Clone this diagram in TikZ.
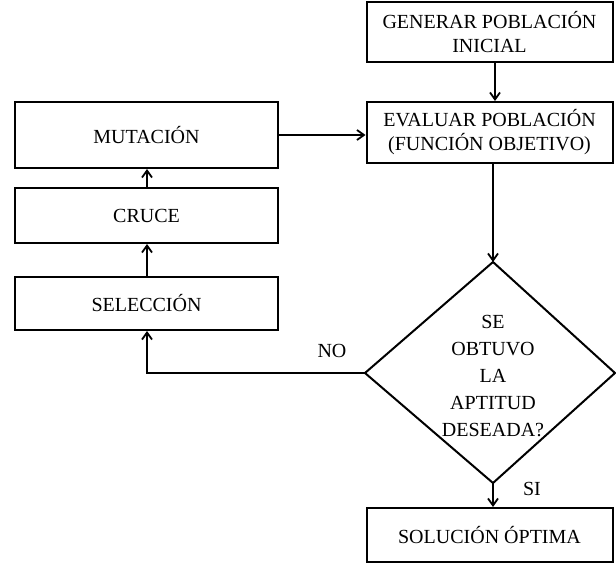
\documentclass[tikz,border=0pt]{standalone}
\usepackage{fontspec}
\setmainfont{Liberation Serif}
\usetikzlibrary{arrows.meta,shapes.geometric}
\begin{document}
\begin{tikzpicture}[x=1pt,y=-1pt,
  box/.style={draw,line width=2pt,inner sep=0pt,font=\fontsize{20}{24}\selectfont,align=center},
  link/.style={line width=1.8pt,-{Straight Barb[length=7pt,width=10pt,line width=1.8pt]}},
  lbl/.style={font=\fontsize{20}{24}\selectfont}]
\useasboundingbox (0,0) rectangle (616,567);
% right column
\node[box,minimum width=246pt,minimum height=60pt] (gen) at (489.5,32) {GENERAR POBLACIÓN\\INICIAL};
\node[box,minimum width=246pt,minimum height=61pt] (eval) at (489.5,132.5) {EVALUAR POBLACIÓN\\(FUNCIÓN OBJETIVO)};
\node[box,minimum width=246pt,minimum height=54pt] (sol) at (489.5,535) {SOLUCIÓN ÓPTIMA};
% decision
\coordinate (dt) at (493,262);
\coordinate (dl) at (365,373);
\coordinate (db) at (493,483);
\coordinate (dr) at (615,373);
\draw[line width=2pt,line join=miter] (dt) -- (dr) -- (db) -- (dl) -- cycle;
\node[lbl,align=center,font=\fontsize{20}{27}\selectfont] (q) at (493,376) {SE\\OBTUVO\\LA\\APTITUD\\DESEADA?};
% left column
\node[box,minimum width=263pt,minimum height=66pt] (mut) at (146.5,135) {MUTACIÓN};
\node[box,minimum width=263pt,minimum height=55pt] (cru) at (146.5,215.5) {CRUCE};
\node[box,minimum width=263pt,minimum height=53pt] (sel) at (146.5,303.5) {SELECCIÓN};
% connectors
\draw[link] (gen.south -| 495,0) -- (eval.north -| 495,0);
\draw[link] (eval.south -| 493,0) -- (dt);
\draw[link] (db) -- (sol.north -| 493,0);
\draw[link] (mut.east) -- (eval.west |- mut.east);
\draw[link] (cru.north -| 147,0) -- (mut.south -| 147,0);
\draw[link] (sel.north -| 147,0) -- (cru.south -| 147,0);
\draw[link] (dl) -- (147,373) -- (sel.south -| 147,0);
% branch labels
\node[lbl] (no) at (332,351) {NO};
\node[lbl] (si) at (532,489) {SI};
\end{tikzpicture}
\end{document}
